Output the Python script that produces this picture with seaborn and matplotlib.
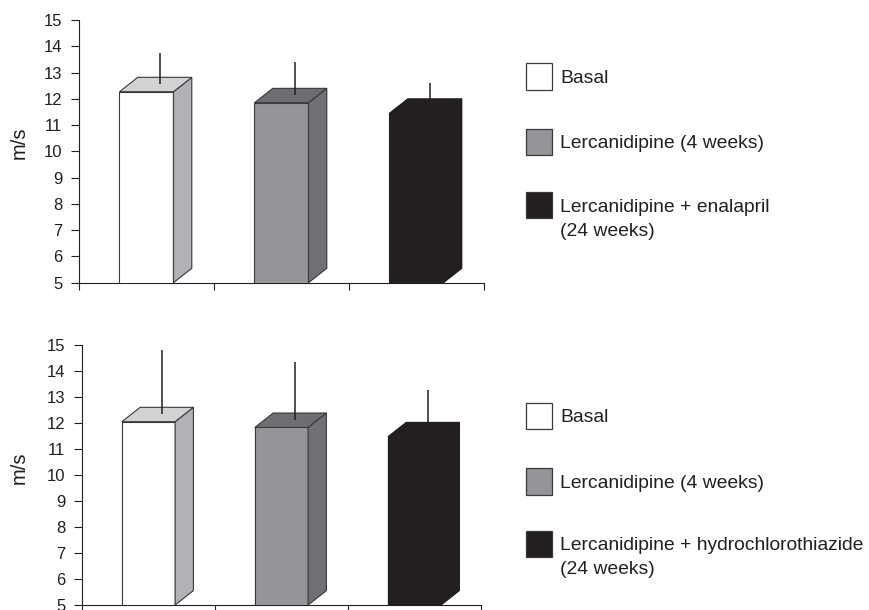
import matplotlib
matplotlib.use("Agg")
import matplotlib.pyplot as plt
import seaborn as sns
import pandas as pd
from matplotlib.patches import Polygon, Rectangle

# ---- data -------------------------------------------------------------
basal = "Basal"
lerca = "Lercanidipine (4 weeks)"
lerca_enal = "Lercanidipine + enalapril\n(24 weeks)"
lerca_hctz = "Lercanidipine + hydrochlorothiazide\n(24 weeks)"

enal_groups = [basal, lerca, lerca_enal]
enal_means = [12.27, 11.85, 11.45]
enal_sd = [1.47, 1.56, 1.14]

hctz_groups = [basal, lerca, lerca_hctz]
hctz_means = [12.05, 11.83, 11.47]
hctz_sd = [2.76, 2.50, 1.80]

y_ticks = [5, 6, 7, 8, 9, 10, 11, 12, 13, 14, 15]
y_label = "m/s"

# ---- style ------------------------------------------------------------
INK = "#231f20"
EDGE = "#3a3a3c"
front_colors = ["#ffffff", "#939598", "#231f20"]
top_colors = ["#d1d2d4", "#6d6e71", "#231f20"]
side_colors = ["#b1b2b5", "#707174", "#231f20"]
edge_colors = [EDGE, EDGE, "#231f20"]

sns.set_theme(style="ticks")
plt.rcParams["font.family"] = ["Liberation Sans", "DejaVu Sans"]
plt.rcParams["text.color"] = INK
plt.rcParams["axes.labelcolor"] = INK
plt.rcParams["xtick.color"] = INK
plt.rcParams["ytick.color"] = INK

W, H = 870, 610
fig = plt.figure(figsize=(W / 100, H / 100), dpi=100)
fig.patch.set_facecolor("white")


def px_axes(left, top_px, right, bottom_px):
    return fig.add_axes([left / W, 1 - bottom_px / H,
                         (right - left) / W, (bottom_px - top_px) / H])


BAR_W = 0.4
DEPTH_PX = (18.3, 14.4)


def draw_panel(ax, groups, means, sds):
    df = pd.DataFrame({"group": groups, "value": means})
    sns.barplot(data=df, x="group", y="value", hue="group",
                palette=front_colors, saturation=1, width=BAR_W,
                legend=False, ax=ax, zorder=3)
    ax.set_xlim(-0.5, len(groups) - 0.5)
    ax.set_ylim(y_ticks[0], y_ticks[-1])

    # depth of the 3-D extrusion, converted to data units
    bbox = ax.get_window_extent()
    dx = DEPTH_PX[0] * len(groups) / bbox.width
    dy = DEPTH_PX[1] * (y_ticks[-1] - y_ticks[0]) / bbox.height
    base = y_ticks[0]

    for i, (patch, h, sd) in enumerate(zip(ax.patches, means, sds)):
        patch.set_edgecolor(edge_colors[i])
        patch.set_linewidth(0.8)
        x0 = i - BAR_W / 2
        x1 = i + BAR_W / 2
        # solid silhouette underneath so the faces never leave a seam
        body = Polygon([(x0, base), (x0, h), (x0 + dx, h + dy), (x1 + dx, h + dy),
                        (x1 + dx, base + dy), (x1, base)],
                       closed=True, facecolor=side_colors[i], edgecolor="none",
                       zorder=2.5)
        side = Polygon([(x1, base), (x1 + dx, base + dy), (x1 + dx, h + dy), (x1, h)],
                       closed=True, facecolor=side_colors[i], edgecolor=edge_colors[i],
                       linewidth=0.8, zorder=3)
        top = Polygon([(x0, h), (x0 + dx, h + dy), (x1 + dx, h + dy), (x1, h)],
                      closed=True, facecolor=top_colors[i], edgecolor=edge_colors[i],
                      linewidth=0.8, zorder=3)
        ax.add_patch(body)
        ax.add_patch(side)
        ax.add_patch(top)
        ex = i + 0.75 * dx
        ax.plot([ex, ex], [h + 0.55 * dy, h + sd], color=INK, lw=1.1,
                zorder=4, solid_capstyle="butt", clip_on=False)

    ax.set_xticks([k - 0.5 for k in range(len(groups) + 1)])
    ax.set_xticklabels([])
    ax.set_yticks(y_ticks)
    ax.set_yticklabels([str(t) for t in y_ticks], fontsize=12)
    ax.tick_params(axis="y", length=5.8, width=0.8, pad=6.2)
    ax.tick_params(axis="x", length=5.0, width=0.8)
    ax.set_xlabel("")
    ax.set_ylabel(y_label, fontsize=14.5, ha="center", va="center")
    for s in ("top", "right"):
        ax.spines[s].set_visible(False)
    for s in ("left", "bottom"):
        ax.spines[s].set_color(INK)
        ax.spines[s].set_linewidth(0.8)
    ax.set_facecolor("white")


def draw_key(groups, centers_px):
    size = 26.5
    for i, (label, cy) in enumerate(zip(groups, centers_px)):
        fig.add_artist(Rectangle((525.7 / W, 1 - (cy + size / 2) / H), size / W, size / H,
                                 transform=fig.transFigure, facecolor=front_colors[i],
                                 edgecolor=EDGE, linewidth=0.9))
        lines = label.split("\n")
        for k, line in enumerate(lines):
            fig.text(560 / W, 1 - (cy + 24 * k) / H, line, fontsize=13.9,
                     ha="left", va="center_baseline")


ax_top = px_axes(79, 20, 484, 282.7)
draw_panel(ax_top, enal_groups, enal_means, enal_sd)
ax_top.yaxis.set_label_coords(-0.148, 0.532)
draw_key(enal_groups, [76.5, 142.0, 205.0])

ax_bot = px_axes(82, 345, 481, 605)
draw_panel(ax_bot, hctz_groups, hctz_means, hctz_sd)
ax_bot.yaxis.set_label_coords(-0.158, 0.526)
draw_key(hctz_groups, [415.8, 481.7, 543.8])

fig.savefig("out.png", dpi=100, facecolor="white")
